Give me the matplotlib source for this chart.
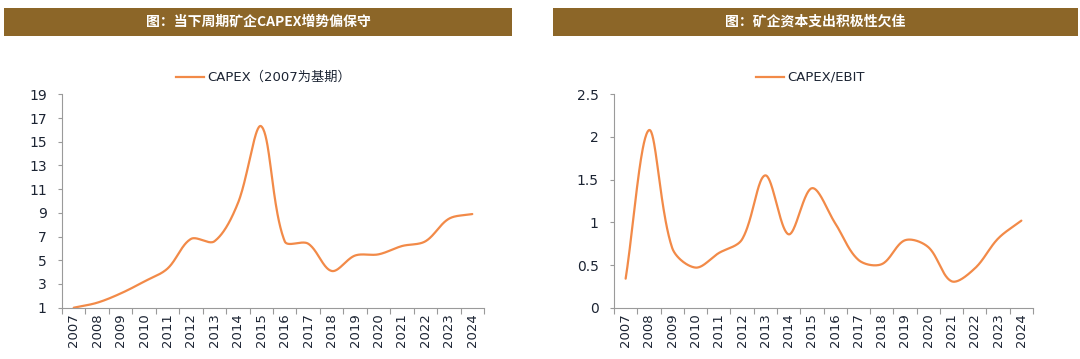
import numpy as np
import matplotlib
matplotlib.use("Agg")
import matplotlib.pyplot as plt

plt.rcParams['font.family'] = ['DejaVu Sans', 'Noto Sans CJK SC']

years = [str(y) for y in range(2007, 2025)]
capex_index = [1.0, 1.42, 2.2, 3.2, 4.3, 6.8, 6.6, 9.8, 16.3, 6.6, 6.4, 4.1, 5.4, 5.5,
               6.2, 6.6, 8.5, 8.9]
capex_ebit = [0.34, 2.08, 0.70, 0.47, 0.64, 0.80, 1.55, 0.86, 1.40, 0.99, 0.56, 0.51,
              0.79, 0.71, 0.31, 0.46, 0.81, 1.02]

titles = ['图：当下周期矿企CAPEX增势偏保守', '图：矿企资本支出积极性欠佳']
labels = ['CAPEX（2007为基期）', 'CAPEX/EBIT']

orange = '#F28A48'
brown = '#8C6628'
txt = '#1C2433'
spine = '#9A9A9A'


def smooth(xs, ys, sx, sy, n=40):
    # Excel-style smoothed line: Bezier segments, control arms scaled by
    # neighbouring segment lengths measured on screen (sx, sy = px per unit)
    p = np.column_stack([np.asarray(xs, float) * sx, np.asarray(ys, float) * sy])
    p = np.vstack([p[0], p, p[-1]])
    t = np.linspace(0, 1, n, endpoint=False)[:, None]
    out = []
    for i in range(1, len(p) - 2):
        p0, p1, p2, p3 = p[i - 1], p[i], p[i + 1], p[i + 2]
        d01 = np.hypot(*(p1 - p0))
        d12 = np.hypot(*(p2 - p1))
        d23 = np.hypot(*(p3 - p2))
        f1 = d12 / (d01 + d12) if d01 + d12 > 0 else 0.5
        f2 = d12 / (d12 + d23) if d12 + d23 > 0 else 0.5
        c1 = p1 + (p2 - p0) * f1 / 3
        c2 = p2 - (p3 - p1) * f2 / 3
        out.append((1 - t) ** 3 * p1 + 3 * (1 - t) ** 2 * t * c1
                   + 3 * (1 - t) * t ** 2 * c2 + t ** 3 * p2)
    out.append(p[-2][None, :])
    out = np.vstack(out)
    return out[:, 0] / sx, out[:, 1] / sy


fig = plt.figure(figsize=(10.8, 3.59), dpi=100)

# title banners
for (x0, w), title in zip([(4 / 1080, 508 / 1080), (553 / 1080, 525 / 1080)], titles):
    bx = fig.add_axes([x0, 1 - 36 / 359, w, 28 / 359])
    bx.set_facecolor(brown)
    bx.set_xticks([])
    bx.set_yticks([])
    for s in bx.spines.values():
        s.set_visible(False)
    bx.text(0.5, 0.5, title, color='white', fontsize=10, fontweight='bold',
            ha='center', va='center', transform=bx.transAxes,
            family=['Noto Sans CJK SC', 'DejaVu Sans'])

specs = [
    dict(rect=[62 / 1080, 1 - 307.7 / 359, 422 / 1080, 213.4 / 359], data=capex_index,
         ylim=(1, 19), yticks=np.arange(1, 20, 2), ytl=[str(v) for v in range(1, 20, 2)],
         leg_x=176 / 1080),
    dict(rect=[614 / 1080, 1 - 307.7 / 359, 419 / 1080, 213.4 / 359], data=capex_ebit,
         ylim=(0, 2.5), yticks=np.arange(0, 2.51, 0.5), ytl=['0', '0.5', '1', '1.5', '2', '2.5'],
         leg_x=756 / 1080),
]

xs = np.arange(len(years))
for spec, lab in zip(specs, labels):
    ax = fig.add_axes(spec['rect'])
    px_x = spec['rect'][2] * 1080 / len(years)
    px_y = spec['rect'][3] * 359 / (spec['ylim'][1] - spec['ylim'][0])
    sx, sy = smooth(xs, spec['data'], px_x, px_y)
    ax.plot(sx, sy, color=orange, lw=1.6, solid_capstyle='round')
    ax.set_xlim(-0.5, len(years) - 0.5)
    ax.set_ylim(*spec['ylim'])
    ax.set_yticks(spec['yticks'])
    ax.set_yticklabels(spec['ytl'])
    ax.set_xticks(np.arange(-0.5, len(years), 1))
    ax.set_xticklabels([])
    ax.set_xticks(xs, minor=True)
    ax.set_xticklabels(years, minor=True, rotation=90)
    ax.tick_params(axis='x', which='major', length=4, color=spine, direction='out')
    ax.tick_params(axis='x', which='minor', length=0, pad=4, labelsize=9.5, labelcolor=txt)
    ax.tick_params(axis='y', length=3, color=spine, labelsize=10, labelcolor=txt, pad=8)
    for s in ['top', 'right']:
        ax.spines[s].set_visible(False)
    for s in ['left', 'bottom']:
        ax.spines[s].set_color(spine)
        ax.spines[s].set_linewidth(0.8)

    # legend above the plot
    lx = spec['leg_x']
    fig.add_artist(plt.Line2D([lx, lx + 28 / 1080], [1 - 77 / 359] * 2, color=orange, lw=1.6,
                              transform=fig.transFigure))
    fig.text(lx + 31 / 1080, 1 - 77 / 359, lab, fontsize=9.5, color=txt, va='center',
             ha='left', family=['DejaVu Sans', 'Noto Sans CJK SC'])

fig.savefig('out.png', dpi=100, facecolor='white')
